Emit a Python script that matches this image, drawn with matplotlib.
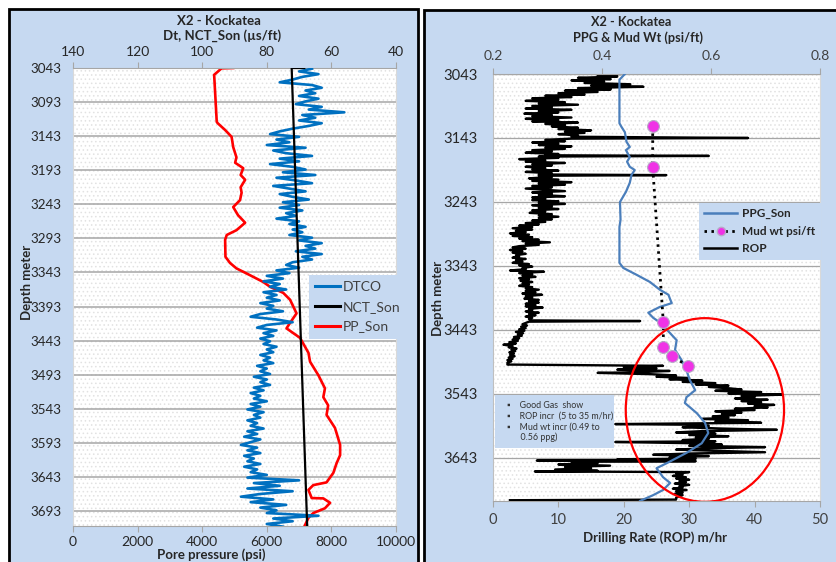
import matplotlib
matplotlib.use('Agg')
import matplotlib.pyplot as plt
from matplotlib.patches import Rectangle, Ellipse
from matplotlib.lines import Line2D

plt.rcParams['font.family'] = ['Lato', 'DejaVu Sans']
plt.rcParams['hatch.linewidth'] = 0.6

# ---------------- data: left panel ----------------
left_yticks = [3043, 3093, 3143, 3193, 3243, 3293, 3343, 3393, 3443, 3493, 3543, 3593, 3643, 3693]
dt_ticks = [140, 120, 100, 80, 60, 40]
pp_ticks = [0, 2000, 4000, 6000, 8000, 10000]

dtco = [66, 70, 64, 69, 72, 76, 66, 63, 68, 65,
        70, 64, 68, 71, 63, 67, 56, 69, 65, 70,
        63, 67, 72, 76, 79, 70, 77, 73, 80, 68,
        78, 74, 66, 76, 70, 79, 72, 68, 75, 65,
        77, 71, 66, 78, 73, 68, 76, 72, 67, 75,
        70, 76, 69, 74, 71, 77, 70, 73, 68, 72,
        69, 73, 66, 70, 63, 68, 65, 71, 63, 69,
        66, 72, 74, 70, 77, 73, 80, 75, 81, 76,
        79, 74, 81, 77, 80, 76, 82, 78, 80, 75,
        82, 85, 77, 72, 80, 83, 77, 81, 78, 82,
        79, 81, 77, 80, 78, 82, 79, 81, 78, 83,
        80, 82, 79, 84, 80, 82, 79, 84, 81, 85,
        82, 84, 80, 85, 82, 86, 81, 84, 82, 86,
        83, 85, 81, 86, 83, 87, 82, 85, 88, 83,
        86, 82, 87, 84, 86, 82, 87, 83, 85, 80,
        86, 70, 84, 76, 86, 72, 82, 88, 78, 85,
        74, 82, 77, 80, 64, 78, 72, 80, 75]
dtco_depth = [3044 + 4 * i for i in range(len(dtco))]

nct_depth = [3043, 3043, 3715]
nct = [68.4, 72.3, 67.5]

pp_depth = [3043, 3043.5, 3053, 3122, 3124, 3134, 3144, 3159, 3174, 3182, 3190, 3200,
            3207, 3218, 3226, 3237, 3247, 3259, 3270, 3281, 3288, 3295, 3320, 3329,
            3337, 3347, 3357, 3364, 3373, 3383, 3403, 3417, 3425, 3439, 3461, 3474,
            3494, 3513, 3526, 3538, 3552, 3571, 3596, 3611, 3623, 3637, 3651, 3655,
            3662, 3674, 3674.5, 3681, 3689, 3696, 3703, 3714]
pp = [4960, 4600, 4370, 4450, 4480, 4710, 4910, 4960, 5060, 5020, 5270, 5190,
      5330, 5190, 5220, 5170, 4960, 5110, 5330, 5060, 4760, 4710, 4720, 4860,
      5060, 5480, 5890, 6100, 6510, 6720, 6920, 6720, 6610, 7030, 7290, 7340,
      7600, 7800, 7750, 7900, 7850, 8110, 8270, 8270, 8160, 8060, 7850, 7440,
      7290, 7390, 7750, 7960, 7800, 7440, 7290, 7180]

# ---------------- data: right panel ----------------
right_yticks = [3043, 3143, 3243, 3343, 3443, 3543, 3643]
ppg_ticks = [0.2, 0.4, 0.6, 0.8]
rop_ticks = [0, 10, 20, 30, 40, 50]

ppg_depth = [3043, 3052, 3120, 3126, 3134, 3149, 3157, 3162, 3173, 3180, 3188, 3193,
             3201, 3213, 3227, 3243, 3271, 3282, 3338, 3346, 3357, 3368, 3380, 3388,
             3395, 3401, 3407, 3416, 3424, 3431, 3448, 3459, 3474, 3490, 3506, 3521,
             3537, 3548, 3557, 3573, 3588, 3604, 3620, 3635, 3651, 3659, 3673, 3682,
             3693, 3701, 3710]
ppg = [0.442, 0.432, 0.432, 0.436, 0.442, 0.445, 0.451, 0.444, 0.451, 0.446, 0.451, 0.460,
       0.454, 0.451, 0.444, 0.433, 0.434, 0.432, 0.432, 0.439, 0.464, 0.488, 0.506, 0.522,
       0.525, 0.528, 0.506, 0.485, 0.494, 0.506, 0.525, 0.537, 0.534, 0.546, 0.555, 0.561,
       0.571, 0.555, 0.552, 0.574, 0.589, 0.595, 0.583, 0.555, 0.519, 0.500, 0.512, 0.525,
       0.512, 0.494, 0.470]

mud_depth = [3125, 3188, 3431, 3470, 3484, 3499]
mud = [0.493, 0.493, 0.5125, 0.5125, 0.529, 0.557]

rop_depth = [3043, 3045, 3047, 3049, 3051, 3053, 3055, 3057, 3059, 3061, 3063, 3065, 3067, 3069, 3071, 3073,
             3075, 3077, 3079, 3081, 3083, 3085, 3087, 3089, 3091, 3093, 3095, 3097, 3099,
             3101, 3103, 3105, 3107, 3109, 3111, 3113, 3115, 3117, 3119, 3121, 3123, 3125,
             3127, 3129, 3131, 3133, 3135, 3137, 3139, 3141, 3143, 3144,
             3146, 3148, 3150, 3152, 3154, 3156, 3158, 3160, 3162, 3164, 3166, 3168, 3170, 3171, 3172,
             3174, 3176, 3178, 3180, 3182, 3184, 3186, 3188, 3190, 3192, 3194, 3196, 3198, 3200, 3201, 3202,
             3204, 3206, 3208, 3210, 3212, 3214, 3216, 3218, 3220, 3222, 3224, 3226, 3228, 3230, 3232, 3234, 3236, 3238, 3240,
             3242, 3244, 3246, 3248, 3250, 3252, 3254, 3256, 3258, 3260, 3262, 3264, 3266, 3268, 3270, 3272, 3274, 3276, 3278, 3280, 3282,
             3284, 3286, 3288, 3290, 3292, 3294, 3296, 3298, 3300, 3302, 3304, 3306, 3308, 3310, 3312,
             3314, 3316, 3318, 3320, 3322, 3324, 3326, 3328, 3330, 3332, 3334, 3336, 3338, 3340, 3342, 3344, 3346, 3348, 3350,
             3352, 3354, 3356, 3358, 3360, 3362, 3364, 3366, 3368, 3370, 3372, 3374, 3376, 3378, 3380, 3382, 3384, 3386, 3388,
             3390, 3392, 3394, 3396,
             3398, 3400, 3402, 3404, 3406, 3408, 3410, 3412, 3414, 3416, 3418, 3420, 3422, 3424, 3426, 3428, 3429, 3430,
             3432, 3434, 3436, 3438, 3440, 3442, 3444, 3446, 3448, 3450, 3452, 3454, 3456, 3458, 3460, 3462, 3464, 3466,
             3468, 3470, 3472, 3474, 3476, 3478, 3480, 3482, 3484, 3486, 3488, 3490, 3492, 3494, 3496, 3497,
             3499, 3501, 3503, 3505, 3507, 3509, 3510, 3512, 3514, 3516,
             3518, 3520, 3522, 3524, 3526, 3528, 3530, 3532, 3534,
             3536, 3538, 3540, 3542, 3544, 3546,
             3548, 3550, 3552, 3554, 3556, 3558, 3560, 3562, 3564, 3566, 3568, 3570, 3572, 3574, 3576, 3578,
             3580, 3582, 3584, 3586, 3588, 3590, 3591,
             3593, 3595, 3597, 3599, 3601, 3603, 3605, 3607, 3609, 3611, 3613, 3615, 3617, 3618, 3620, 3622, 3624, 3626, 3628,
             3630, 3632, 3634, 3636, 3638, 3640, 3642, 3644, 3645, 3646, 3647, 3648,
             3649, 3651, 3653, 3655, 3657, 3659, 3661, 3663, 3664, 3665,
             3667, 3669, 3671, 3673, 3675, 3677, 3679, 3681, 3683, 3685, 3687,
             3689, 3691, 3693, 3695, 3697, 3699, 3701, 3703, 3705, 3708, 3709]
rop = [19.5, 16, 19, 13, 18, 12, 17, 14, 21, 15, 23, 13, 18, 11, 16, 10,
       14, 8, 12, 6, 10, 5, 11, 7, 13, 6, 9, 5, 12,
       7, 10, 4.8, 9, 6, 12, 5, 10, 6, 13, 8, 11, 9,
       13, 10, 15, 11, 14, 10, 13, 12, 39, 12,
       8, 11, 6, 10, 7, 12, 8, 11, 6, 9, 5, 10, 8, 33, 7,
       10, 4, 8, 5, 11, 6, 9, 5, 8, 6, 10, 5, 9, 7, 26.5, 7,
       9, 5.5, 10, 6, 12, 7, 11, 6, 9, 5, 8, 11, 6, 9, 7, 11, 6, 8, 6,
       10, 7, 11, 6, 9, 7, 10, 6, 8, 5.6, 9, 7, 10, 7, 9, 6, 8, 5, 7, 4, 6,
       3, 6, 3.5, 5, 2.6, 5.5, 3, 6, 4, 7, 4.5, 8.7, 5, 7, 4,
       3, 5, 2.6, 4.5, 3, 5, 3.5, 4, 3, 5, 3.5, 4.5, 3, 5.5, 4, 6, 4.5, 5, 2.6,
       7.8, 4, 6, 4.5, 6.5, 4, 5.5, 4.2, 6, 4.5, 5.5, 4, 6, 5, 7, 5, 6.5, 4.5, 7.5,
       5, 6, 4.8, 7,
       5.5, 7, 5, 6.5, 5, 7.6, 5.5, 6, 5, 7, 5.5, 6.5, 5, 6, 5.5, 6, 22.5, 5.5,
       5, 4.5, 5.2, 4.3, 5, 4, 4.8, 3.5, 4.6, 3.8, 4.4, 3.2, 4, 3, 3.8, 2.5, 3.5, 1.6,
       3, 2.4, 3.6, 2.8, 3.4, 2.5, 3.2, 2.6, 3.3, 2.4, 3, 2.2, 2.8, 2.2, 2.3, 2.2,
       26, 20, 25, 19, 27, 22, 16, 24, 28, 25,
       30, 27, 32, 29, 34, 31, 36, 33, 36,
       38, 34, 41, 36, 44.3, 38,
       40, 37, 42, 38, 41, 39, 43, 40, 42, 37, 40, 34, 38, 35, 37, 33.6,
       36, 32, 39, 34, 41, 18.7, 30,
       33, 29, 35, 43.4, 32, 28, 34, 30, 36, 31, 33, 29, 34, 18.7, 31, 35, 30, 41.6, 32,
       28, 35, 41.6, 30, 24.5, 33, 27, 31, 19, 29, 6.7, 31,
       12, 16, 10, 17.9, 11, 15, 9.5, 16, 6.4, 30,
       28, 29, 27.5, 29.5, 28, 30, 28.5, 29.5, 27.8, 30, 28.5,
       29, 27.5, 29.6, 28, 29, 27.8, 29, 28.5, 28, 28, 2.6]

notes = ["\u25aa    Good Gas  show",
         "\u25aa    ROP incr  (5 to 35 m/hr)",
         "\u25aa    Mud wt incr (0.49 to",
         "      0.56 ppg)"]

# ---------------- styling ----------------
PANEL = '#C6D9F1'
W, H = 837, 562
fig = plt.figure(figsize=(W / 100, H / 100), dpi=100)
fig.patch.set_facecolor('white')


def fx(px):
    return px / W


def fy(py):
    return 1 - py / H


# panel backgrounds with black borders
fig.patches.append(Rectangle((fx(9), fy(575)), fx(418) - fx(9), fy(9) - fy(575),
                             transform=fig.transFigure, facecolor=PANEL,
                             edgecolor='black', lw=2.0, zorder=-10))
fig.patches.append(Rectangle((fx(424), fy(575)), fx(850) - fx(424), fy(10) - fy(575),
                             transform=fig.transFigure, facecolor=PANEL,
                             edgecolor='black', lw=2.0, zorder=-10))


def style_base(ax, yticks, ylim, ytick_size, ypad, grid_lw):
    ax.set_facecolor('white')
    ax.add_patch(Rectangle((0, 0), 1, 1, transform=ax.transAxes, facecolor='white',
                           edgecolor='#E2E2E2', hatch='....', lw=0, zorder=0))
    ax.set_ylim(*ylim)
    ax.set_yticks(yticks)
    ax.tick_params(axis='y', length=0, pad=ypad, labelsize=ytick_size, colors='#262626')
    ax.grid(axis='y', color='#A6A6A6', lw=grid_lw)
    ax.set_axisbelow(True)
    for s in ['left', 'right']:
        ax.spines[s].set_color('#D9D9D9')
        ax.spines[s].set_linewidth(0.8)
    ax.spines['top'].set_visible(False)
    ax.spines['bottom'].set_color('#A6A6A6')
    ax.spines['bottom'].set_linewidth(0.8)


# ---------------- left panel ----------------
axL = fig.add_axes([fx(73), fy(526), fx(396) - fx(73), fy(68) - fy(526)])
style_base(axL, left_yticks, (3715, 3043), 9.6, 8, 1.1)
axL.set_xlim(0, 10000)
axL.set_xticks(pp_ticks)
axL.tick_params(axis='x', direction='out', length=4, width=0.8, color='#A6A6A6',
                pad=3, labelsize=10, labelcolor='#262626')
axL.plot(pp, pp_depth, color='#FF0000', lw=1.9, zorder=3)

axLt = axL.twiny()
axLt.set_xlim(140, 40)
axLt.set_xticks(dt_ticks)
axLt.tick_params(axis='x', direction='out', length=4, width=0.8, color='#A6A6A6',
                 pad=3, labelsize=10, labelcolor='#262626')
for s in ['left', 'right', 'bottom']:
    axLt.spines[s].set_visible(False)
axLt.spines['top'].set_color('#A6A6A6')
axLt.spines['top'].set_linewidth(0.8)
axLt.plot(dtco, dtco_depth, color='#0070C0', lw=1.9, zorder=3)
axLt.plot(nct, nct_depth, color='black', lw=1.6, zorder=4)
axLt.set_ylim(3715, 3043)

hL = [Line2D([], [], color='#0070C0', lw=2.2),
      Line2D([], [], color='black', lw=2.2),
      Line2D([], [], color='#FF0000', lw=2.2)]
legL = axLt.legend(hL, ['DTCO', 'NCT_Son', 'PP_Son'], loc='upper left',
                   bbox_to_anchor=(fx(309), fy(275)), bbox_transform=fig.transFigure,
                   frameon=True, fancybox=False, facecolor=PANEL, edgecolor='none',
                   framealpha=1, fontsize=10, handlelength=1.8, handletextpad=0.2,
                   labelspacing=0.55, borderpad=0.45, borderaxespad=0)
for t in legL.get_texts():
    t.set_color('#404040')

fig.text(fx(219), fy(21), 'X2 - Kockatea', ha='center', va='center',
         fontsize=9.5, fontweight='bold', color='#262626')
fig.text(fx(222), fy(36), 'Dt, NCT_Son (\u00b5s/ft)', ha='center', va='center',
         fontsize=9.5, fontweight='bold', color='#262626')
fig.text(fx(211), fy(555), 'Pore pressure (psi)', ha='center', va='center',
         fontsize=9.5, fontweight='bold', color='#262626')
fig.text(fx(27), fy(282), 'Depth meter', ha='center', va='center', rotation=90,
         fontsize=9.5, fontweight='bold', color='#262626')

# ---------------- right panel ----------------
axR = fig.add_axes([fx(493), fy(501), fx(820) - fx(493), fy(74) - fy(501)])
style_base(axR, right_yticks, (3710.2, 3043), 10.6, 11, 0.9)
axR.spines['left'].set_color('#BFBFBF')
axR.set_xlim(0, 50)
axR.set_xticks(rop_ticks)
axR.tick_params(axis='x', direction='out', length=4, width=0.8, color='#A6A6A6',
                pad=5, labelsize=10.5, labelcolor='#404040')
axR.plot(rop, rop_depth, color='black', lw=1.7, zorder=3)

axRt = axR.twiny()
axRt.set_xlim(0.2, 0.8)
axRt.set_xticks(ppg_ticks)
axRt.tick_params(axis='x', direction='out', length=4, width=0.8, color='#A6A6A6',
                 pad=5, labelsize=10, labelcolor='#404040')
for s in ['left', 'right', 'bottom']:
    axRt.spines[s].set_visible(False)
axRt.spines['top'].set_color('#A6A6A6')
axRt.spines['top'].set_linewidth(0.8)
axRt.plot(ppg, ppg_depth, color='#4A7EBB', lw=1.6, zorder=3)
axRt.plot(mud, mud_depth, color='black', lw=2.0, ls=(0, (0.9, 1.6)),
          marker='o', markersize=8.5, markerfacecolor='#F032E6',
          markeredgecolor='#B8A8C8', markeredgewidth=0.8, zorder=5)
axRt.add_patch(Ellipse((32.4, 3568), 24.2, 287, transform=axR.transData,
                       facecolor='none', edgecolor='#FF0000', lw=1.6, zorder=6))
axRt.set_ylim(3710.2, 3043)

hR = [Line2D([], [], color='#4A7EBB', lw=1.8),
      Line2D([], [], color='black', lw=2.0, ls=(0, (0.9, 1.6)), marker='o',
             markersize=6, markerfacecolor='#F032E6', markeredgecolor='#B8A8C8'),
      Line2D([], [], color='black', lw=1.8)]
legR = axRt.legend(hR, ['PPG_Son', 'Mud wt psi/ft', 'ROP'], loc='upper left',
                   bbox_to_anchor=(fx(699), fy(203)), bbox_transform=fig.transFigure,
                   frameon=True, fancybox=False, facecolor=PANEL, edgecolor='none',
                   framealpha=1, handlelength=2.8, handletextpad=0.4,
                   labelspacing=0.55, borderpad=0.45, borderaxespad=0, numpoints=1,
                   prop={'weight': 'bold', 'size': 8.5})
for t in legR.get_texts():
    t.set_color('#262626')

# notes box
fig.patches.append(Rectangle((fx(495), fy(448)), fx(614) - fx(495), fy(395) - fy(448),
                             transform=fig.transFigure, facecolor=PANEL,
                             edgecolor='none', zorder=20))
for i, line in enumerate(notes):
    fig.text(fx(507), fy(405 + 10.8 * i), line, ha='left', va='center',
             fontsize=6.4, color='#333333', zorder=21,
             family=['Lato', 'DejaVu Sans'])

fig.text(fx(631), fy(22), 'X2 - Kockatea', ha='center', va='center',
         fontsize=9.2, fontweight='bold', color='#262626')
fig.text(fx(638), fy(38), 'PPG & Mud Wt (psi/ft)', ha='center', va='center',
         fontsize=9.2, fontweight='bold', color='#262626')
fig.text(fx(655), fy(538), 'Drilling Rate (ROP) m/hr', ha='center', va='center',
         fontsize=9.5, fontweight='bold', color='#262626')
fig.text(fx(438), fy(298), 'Depth meter', ha='center', va='center', rotation=90,
         fontsize=9.5, fontweight='bold', color='#262626')

fig.savefig('out.png', dpi=100, facecolor='white')
